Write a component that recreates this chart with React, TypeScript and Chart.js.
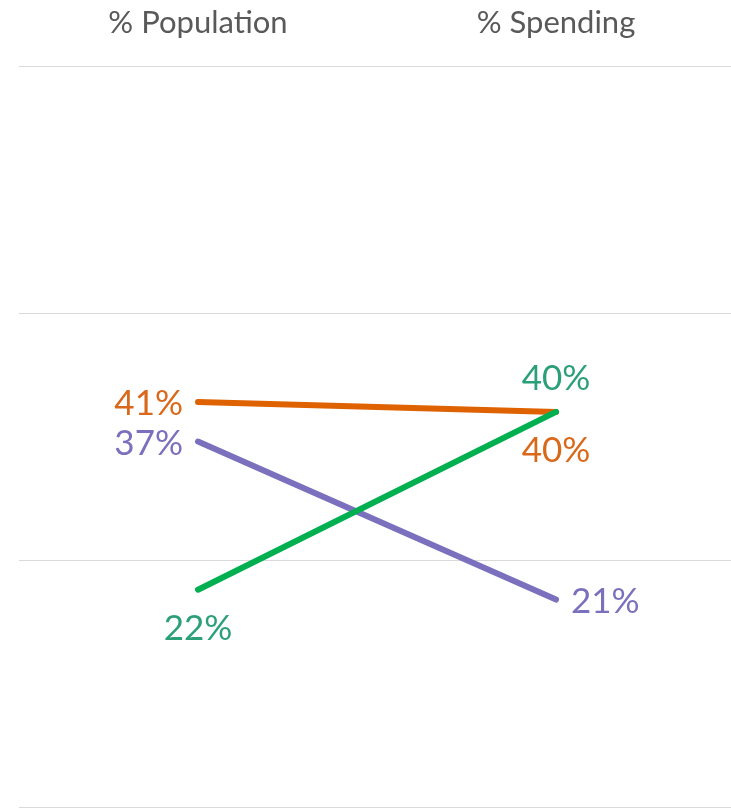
import React, { useEffect, useRef } from "react";
import { Chart, registerables } from "chart.js";

Chart.register(...registerables);

const categories = ["% Population", "% Spending"];
const seriesNames = ["Group A", "Group B", "Group C"];
const greenValues = [22, 40];
const purpleValues = [37, 21];
const orangeValues = [41, 40];
const yTicks = [0, 25, 50, 75];

const labelPlugin = {
  id: "slopeLabels",
  afterDatasetsDraw(chart: any) {
    const ctx = chart.ctx;
    chart.data.datasets.forEach((ds: any, di: number) => {
      const meta = chart.getDatasetMeta(di);
      meta.data.forEach((pt: any, i: number) => {
        const pos = ds.labelPos[i];
        const text = Math.round(ds.data[i]) + "%";
        ctx.save();
        ctx.font = "35px Lato";
        ctx.fillStyle = ds.labelColor;
        ctx.textBaseline = "middle";
        let x = pt.x;
        let y = pt.y;
        if (pos === "left") {
          ctx.textAlign = "right";
          x -= 15;
          y += 2;
        } else if (pos === "right") {
          ctx.textAlign = "left";
          x += 15;
          y += 2;
        } else if (pos === "below") {
          ctx.textAlign = "center";
          y += 39;
        } else {
          ctx.textAlign = "center";
          y -= 33;
        }
        ctx.fillText(text, x, y);
        ctx.restore();
      });
    });
  },
};

export default function App() {
  const ref = useRef<HTMLCanvasElement>(null);
  useEffect(() => {
    if (!ref.current) return;
    const chart = new Chart(ref.current, {
      type: "line",
      data: {
        labels: categories,
        datasets: [
          {
            label: seriesNames[2],
            data: greenValues,
            borderColor: "#00B050",
            labelColor: "#2A9F78",
            labelPos: ["below", "above"],
          },
          {
            label: seriesNames[1],
            data: purpleValues,
            borderColor: "#7B70BD",
            labelColor: "#7B70BD",
            labelPos: ["left", "right"],
          },
          {
            label: seriesNames[0],
            data: orangeValues,
            borderColor: "#DF6200",
            labelColor: "#D9681A",
            labelPos: ["left", "below"],
          },
        ].map((d: any) => ({
          ...d,
          borderWidth: 6,
          borderCapStyle: "round",
          pointRadius: 0,
          pointHoverRadius: 0,
          fill: false,
          tension: 0,
        })) as any,
      },
      options: {
        animation: false,
        responsive: false,
        events: [],
        layout: { padding: { left: 19, right: 0, top: 4, bottom: 2 } },
        plugins: { legend: { display: false }, tooltip: { enabled: false } },
        scales: {
          x: {
            position: "top",
            offset: true,
            grid: { display: false, drawTicks: false },
            border: { display: false },
            ticks: {
              color: "#595959",
              font: { family: "Lato", size: 31 },
              padding: 25,
            },
            afterFit: (axis: any) => {
              axis.height = axis.height - 25;
            },
          },
          y: {
            min: 0,
            max: 75,
            afterBuildTicks: (axis: any) => {
              axis.ticks = yTicks.map((v) => ({ value: v }));
            },
            afterFit: (axis: any) => {
              axis.width = 0;
            },
            ticks: { display: false },
            grid: { color: "#D9D9D9", lineWidth: 1, drawTicks: false },
            border: { display: false },
          },
        },
      },
      plugins: [labelPlugin],
    } as any);
    return () => chart.destroy();
  }, []);
  return (
    <div
      style={{
        position: "absolute",
        left: 0,
        top: 0,
        width: 731,
        height: 809,
        overflow: "hidden",
        background: "#fff",
      }}
    >
      <canvas ref={ref} width={735} height={809} style={{ display: "block" }} />
    </div>
  );
}
